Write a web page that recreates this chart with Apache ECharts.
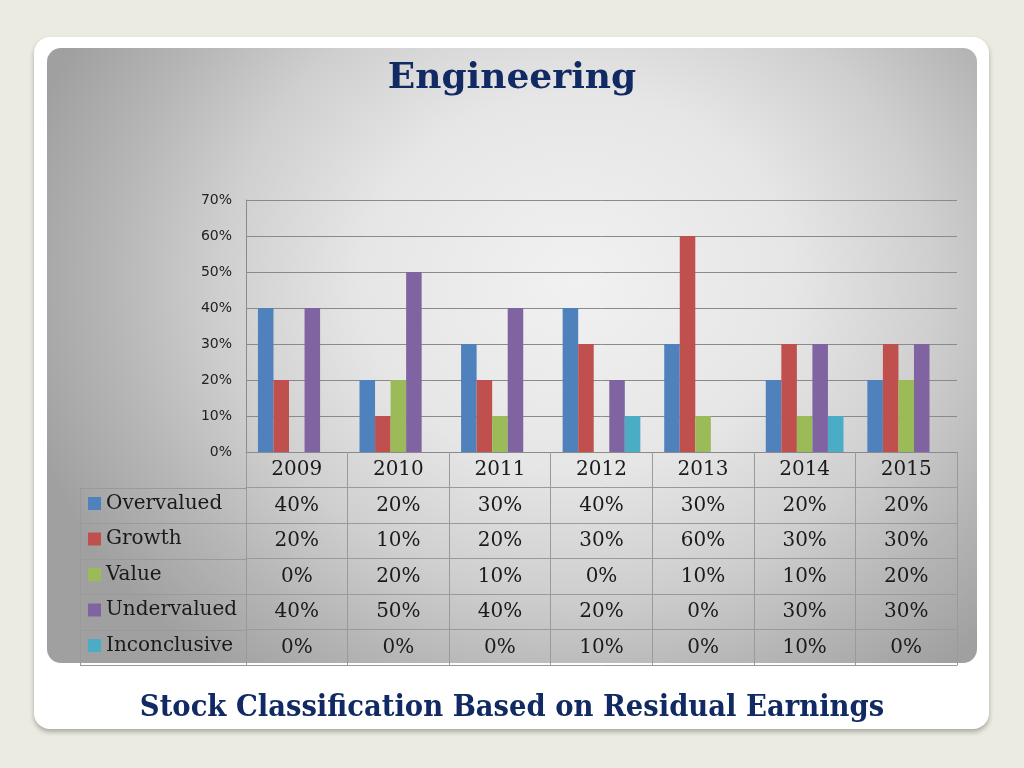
<!DOCTYPE html>
<html>
<head>
<meta charset="utf-8">
<script src="https://cdn.jsdelivr.net/npm/echarts@6.0.0/dist/echarts.min.js"></script>
<style>
  html, body { margin: 0; padding: 0; width: 1024px; height: 768px; overflow: hidden; background: #ecebe2; }
  #card { position: absolute; left: 34px; top: 37px; width: 955px; height: 692px; border-radius: 16px; background: #ffffff; box-shadow: 0 3px 5px rgba(0,0,0,0.28); }
  #panel { position: absolute; left: 47px; top: 48px; width: 930px; height: 615px; border-radius: 14px;
    background: radial-gradient(ellipse 540px 470px at 57% 38%, #f1f1f1 0%, #e6e6e6 40%, #cfcfcf 66%, #b6b6b6 86%, #a0a0a0 106%); }
  #chart { position: absolute; left: 0; top: 0; width: 1024px; height: 768px; }
</style>
</head>
<body>
<div id="card"></div>
<div id="panel"></div>
<div id="chart"></div>
<script>
// ---- data ----
const categories = ['2009', '2010', '2011', '2012', '2013', '2014', '2015'];
const seriesNames = ['Overvalued', 'Growth', 'Value', 'Undervalued', 'Inconclusive'];
const overvalued   = [40, 20, 30, 40, 30, 20, 20];
const growth       = [20, 10, 20, 30, 60, 30, 30];
const valueClass   = [0, 20, 10, 0, 10, 10, 20];
const undervalued  = [40, 50, 40, 20, 0, 30, 30];
const inconclusive = [0, 0, 0, 10, 0, 10, 0];
const yMax = 70;
const yStep = 10;

// ---- layout / style ----
const seriesData = [overvalued, growth, valueClass, undervalued, inconclusive];
const colors = ['#4f81bd', '#c0504d', '#9bbb59', '#8064a2', '#4bacc6'];
const GRID = { left: 246, right: 67, top: 200, bottom: 316 };
const ROW_H = 35.5;
const TABLE_LEFT = 80;
const H = 768;
const axisY0 = H - GRID.bottom;
const lineColor = '#9a9a9a';
const serif = 'DejaVu Serif';
const textColor = '#1a1a1a';

const chart = echarts.init(document.getElementById('chart'), null, { renderer: 'canvas' });

const xAxes = [];
// header row (years)
xAxes.push({
  type: 'category', data: categories, position: 'bottom', offset: 0, gridIndex: 0,
  axisLine: { show: true, lineStyle: { color: '#8a8a8a', width: 1 } },
  axisTick: { show: true, length: ROW_H, interval: 0, lineStyle: { color: lineColor } },
  axisLabel: { show: true, interval: 0, margin: 8, fontFamily: serif, fontSize: 20, color: textColor, lineHeight: 20 },
  splitLine: { show: false }
});
// value rows
seriesData.forEach((arr, i) => {
  xAxes.push({
    type: 'category', data: categories, position: 'bottom', offset: ROW_H * (i + 1), gridIndex: 0,
    axisLine: { show: true, lineStyle: { color: lineColor, width: 1 } },
    axisTick: { show: true, length: ROW_H, interval: 0, lineStyle: { color: lineColor } },
    axisLabel: { show: true, interval: 0, margin: 8, fontFamily: serif, fontSize: 20, color: textColor, lineHeight: 20,
      formatter: (v, idx) => arr[idx] + '%' },
    splitLine: { show: false }
  });
});
// bottom border
xAxes.push({
  type: 'category', data: categories, position: 'bottom', offset: ROW_H * (seriesData.length + 1), gridIndex: 0,
  axisLine: { show: true, lineStyle: { color: lineColor, width: 1 } },
  axisTick: { show: false }, axisLabel: { show: false }, splitLine: { show: false }
});

// left column borders of the data table
const leftLines = [];
for (let k = 1; k <= seriesData.length + 1; k++) {
  const y = Math.round(axisY0 + k * ROW_H) + 0.5;
  leftLines.push({ type: 'line', shape: { x1: TABLE_LEFT, y1: y, x2: GRID.left, y2: y }, style: { stroke: lineColor, lineWidth: 1 }, silent: true });
}
leftLines.push({ type: 'line', shape: { x1: TABLE_LEFT + 0.5, y1: Math.round(axisY0 + ROW_H) + 0.5, x2: TABLE_LEFT + 0.5, y2: Math.round(axisY0 + (seriesData.length + 1) * ROW_H) + 0.5 }, style: { stroke: lineColor, lineWidth: 1 }, silent: true });

const option = {
  animation: false,
  backgroundColor: 'transparent',
  title: [
    { text: 'Engineering', left: 'center', top: 53,
      textStyle: { fontFamily: serif, fontWeight: 'bold', fontSize: 36, color: '#112a63', lineHeight: 42 } },
    { text: 'Stock Classification Based on Residual Earnings', left: 'center', top: 685,
      textStyle: { fontFamily: 'DejaVu Serif Condensed', fontWeight: 'bold', fontSize: 30.5, color: '#112a63', lineHeight: 36 } }
  ],
  legend: {
    orient: 'vertical', left: 88, top: axisY0 + ROW_H + 5, padding: 0,
    itemWidth: 13, itemHeight: 13, itemGap: ROW_H - 22, icon: 'rect',
    selectedMode: false,
    textStyle: { fontFamily: serif, fontSize: 20, color: textColor, lineHeight: 22 },
    data: seriesNames
  },
  grid: { left: GRID.left, right: GRID.right, top: GRID.top, bottom: GRID.bottom, containLabel: false },
  xAxis: xAxes,
  yAxis: {
    type: 'value', min: 0, max: yMax, interval: yStep,
    axisLine: { show: true, lineStyle: { color: '#8a8a8a' } },
    axisTick: { show: false },
    axisLabel: { formatter: '{value}%', fontFamily: 'DejaVu Sans', fontSize: 14, color: '#222', margin: 14 },
    splitLine: { show: true, lineStyle: { color: '#8a8a8a', width: 1 } }
  },
  series: seriesNames.map((name, i) => ({
    name, type: 'bar', xAxisIndex: 0, yAxisIndex: 0,
    data: seriesData[i],
    itemStyle: { color: colors[i] },
    barGap: '0%', barCategoryGap: '23.5%'
  })),
  graphic: leftLines
};
chart.setOption(option);
</script>
</body>
</html>
